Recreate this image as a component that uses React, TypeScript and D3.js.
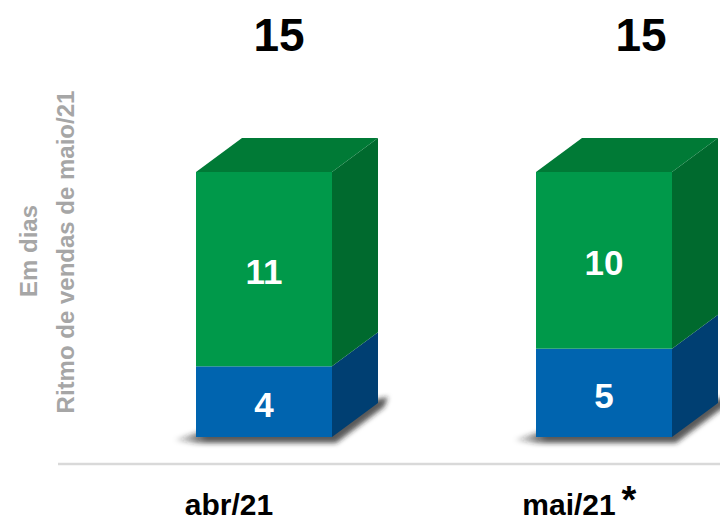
import React from "react";
import * as d3 from "d3";

const categories = ["abr/21", "mai/21"];
const categoryNotes = ["", "*"];
const blueValues = [4, 5];
const greenValues = [11, 10];
const totals = [15, 15];
const yTitle1 = "Em dias";
const yTitle2 = "Ritmo de vendas de maio/21";

const W = 720;
const H = 520;
const FONT = "'Liberation Sans', Arial, sans-serif";

const colors = {
  greenFront: "#00994A",
  greenTop: "#007A36",
  greenSide: "#006A2E",
  blueFront: "#0064AF",
  blueTop: "#004F8C",
  blueSide: "#003F72",
};

export default function App() {
  const x = d3
    .scaleBand<string>()
    .domain(categories)
    .range([94, 774])
    .paddingInner(0.6)
    .paddingOuter(0.3);
  const y = d3.scaleLinear().domain([0, 15]).range([437, 172]);
  const totalX = d3.scalePoint<string>().domain(categories).range([279, 641]);
  const dx = 46;
  const dy = 34;
  const bw = x.bandwidth();

  const stack = categories.map((c, i) => [
    { y0: 0, y1: blueValues[i], v: blueValues[i], front: colors.blueFront, top: colors.blueTop, side: colors.blueSide },
    {
      y0: blueValues[i],
      y1: blueValues[i] + greenValues[i],
      v: greenValues[i],
      front: colors.greenFront,
      top: colors.greenTop,
      side: colors.greenSide,
    },
  ]);

  const pts = (arr: number[][]) => arr.map((p) => p.join(",")).join(" ");

  return (
    <svg width={W} height={H} style={{ position: "absolute", left: 0, top: 0, background: "#fff" }}>
      <defs>
        <filter id="sh" x="-20%" y="-200%" width="140%" height="500%">
          <feGaussianBlur stdDeviation="2.5" />
        </filter>
        <linearGradient id="shg" x1="0" x2="1" y1="0" y2="0">
          <stop offset="0" stopColor="#222" stopOpacity="0.1" />
          <stop offset="0.15" stopColor="#222" stopOpacity="0.75" />
          <stop offset="1" stopColor="#222" stopOpacity="0.75" />
        </linearGradient>
      </defs>
      <rect width={W} height={H} fill="#fff" />
      {/* y titles */}
      <text
        transform={`translate(37,251) rotate(-90)`}
        textAnchor="middle"
        fontFamily={FONT}
        fontWeight="bold"
        fontSize={24}
        fill="#A6A6A6"
      >
        {yTitle1}
      </text>
      <text
        transform={`translate(74,252) rotate(-90)`}
        textAnchor="middle"
        fontFamily={FONT}
        fontWeight="bold"
        fontSize={24}
        fill="#A6A6A6"
      >
        {yTitle2}
      </text>
      {/* baseline */}
      <line x1={58} x2={W} y1={464} y2={464} stroke="#D9D9D9" strokeWidth={2.5} />
      {categories.map((c, i) => {
        const x0 = x(c)!;
        const x1 = x0 + bw;
        const yb = y(0);
        return (
          <g key={c}>
            <polygon
              points={pts([
                [x0 - 22, yb + 3],
                [x0, yb - 4],
                [x1 + dx, yb - dy - 4],
                [x1 + dx + 10, yb - dy - 6],
                [x1 + dx + 6, yb - dy + 4],
                [x1 + 4, yb + 6],
                [x0, yb + 6],
              ])}
              fill="url(#shg)"
              filter="url(#sh)"
            />
            {stack[i].map((s, j) => {
              const yt = y(s.y1);
              const yB = y(s.y0);
              return (
                <g key={j}>
                  <rect x={x0} y={yt} width={bw} height={yB - yt} fill={s.front} />
                  <polygon
                    points={pts([
                      [x1, yB],
                      [x1 + dx, yB - dy],
                      [x1 + dx, yt - dy],
                      [x1, yt],
                    ])}
                    fill={s.side}
                  />
                  {j === stack[i].length - 1 && (
                    <polygon
                      points={pts([
                        [x0, yt],
                        [x0 + dx, yt - dy],
                        [x1 + dx, yt - dy],
                        [x1, yt],
                      ])}
                      fill={s.top}
                    />
                  )}
                  <text
                    x={x0 + bw / 2}
                    y={(yt + yB) / 2 + 15}
                    textAnchor="middle"
                    fontFamily={FONT}
                    fontWeight="bold"
                    fontSize={35}
                    fill="#fff"
                  >
                    {s.v}
                  </text>
                </g>
              );
            })}
            <text
              x={totalX(c)}
              y={51}
              textAnchor="middle"
              fontFamily={FONT}
              fontWeight="bold"
              fontSize={46}
              fill="#000"
            >
              {totals[i]}
            </text>
            <text
              x={x0 + bw / 2 - 35}
              y={515}
              textAnchor="middle"
              fontFamily={FONT}
              fontWeight="bold"
              fontSize={30}
              fill="#000"
            >
              {c}
            </text>
            {categoryNotes[i] && (
              <text
                x={x0 + bw / 2 + 25}
                y={513}
                textAnchor="middle"
                fontFamily={FONT}
                fontWeight="bold"
                fontSize={38}
                fill="#000"
              >
                {categoryNotes[i]}
              </text>
            )}
          </g>
        );
      })}
    </svg>
  );
}
